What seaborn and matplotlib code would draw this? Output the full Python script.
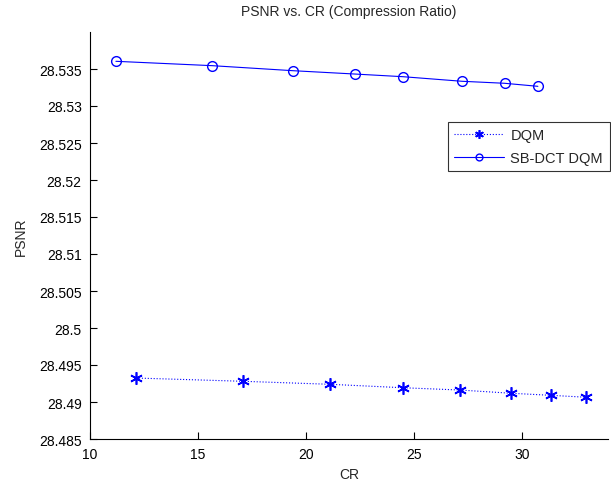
import matplotlib
matplotlib.use("Agg")
import matplotlib.pyplot as plt
import seaborn as sns
import pandas as pd
from matplotlib.ticker import FuncFormatter

cr_dqm = [12.13, 17.07, 21.14, 24.48, 27.13, 29.52, 31.37, 33.0]
psnr_dqm = [28.49324, 28.4928, 28.49239, 28.49193, 28.49162, 28.49118, 28.4909, 28.49064]
cr_sb = [11.20, 15.66, 19.41, 22.27, 24.50, 27.24, 29.21, 30.75]
psnr_sb = [28.53604, 28.53545, 28.53477, 28.53432, 28.53396, 28.53334, 28.53307, 28.53266]
yticks = [28.485, 28.49, 28.495, 28.5, 28.505, 28.51, 28.515, 28.52, 28.525, 28.53, 28.535]
xticks = [10, 15, 20, 25, 30]

sns.set_style("white")
plt.rcParams['font.family'] = ['Liberation Sans', 'DejaVu Sans']

fig = plt.figure(figsize=(6.11, 4.81), dpi=100)
ax = fig.add_axes([90/611, 41/481, 518/611, 407/481])

blue = (0, 0, 1)
df1 = pd.DataFrame({"CR": cr_dqm, "PSNR": psnr_dqm})
df2 = pd.DataFrame({"CR": cr_sb, "PSNR": psnr_sb})
sns.lineplot(data=df1, x="CR", y="PSNR", ax=ax, color=blue, linestyle=':',
             marker=(6, 2, 0), markersize=9, markeredgewidth=1.2,
             markeredgecolor=blue, markerfacecolor=blue, linewidth=0.8,
             label="DQM", sort=False)
sns.lineplot(data=df2, x="CR", y="PSNR", ax=ax, color=blue, linestyle='-',
             marker='o', markersize=7, markerfacecolor='none', markeredgecolor=blue,
             markeredgewidth=1.0, linewidth=0.8, label="SB-DCT DQM", sort=False)

ax.set_xlim(10, 34)
ax.set_ylim(28.485, 28.540)
ax.set_xticks(xticks)
ax.set_yticks(yticks)
ax.yaxis.set_major_formatter(FuncFormatter(lambda v, p: ('%.3f' % v).rstrip('0').rstrip('.')))
ax.tick_params(direction='in', length=5, width=0.8, colors='black', labelsize=10,
               left=True, bottom=True, pad=6)
for s in ['top', 'right']:
    ax.spines[s].set_visible(False)
for s in ['left', 'bottom']:
    ax.spines[s].set_color('black')
    ax.spines[s].set_linewidth(0.8)

ax.set_title("PSNR vs. CR (Compression Ratio)", fontsize=10, pad=12)
ax.set_xlabel("CR", fontsize=10, labelpad=4)
ax.set_ylabel("PSNR", fontsize=10, labelpad=8)

leg = ax.legend(loc='upper right', bbox_to_anchor=(1.003, 0.78), frameon=True,
                fancybox=False, fontsize=10.5, handlelength=3.4, borderpad=0.45,
                labelspacing=0.6, handletextpad=0.45, borderaxespad=0, markerscale=0.7)
leg.get_frame().set_edgecolor('black')
leg.get_frame().set_linewidth(0.8)

fig.savefig("out.png", dpi=100, facecolor='white')
